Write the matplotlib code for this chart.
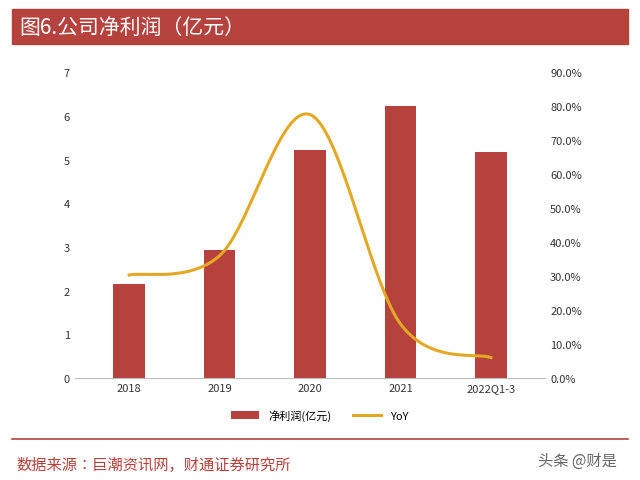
import matplotlib
matplotlib.use("Agg")
import matplotlib.pyplot as plt
import numpy as np
from matplotlib.ticker import FuncFormatter
from matplotlib import font_manager

names = sorted({f.name for f in font_manager.fontManager.ttflist if "CJK" in f.name})
pref = [n for n in ["Noto Sans CJK SC", "Noto Sans CJK JP"] if n in names] or names
plt.rcParams['font.family'] = pref + ['DejaVu Sans']

categories = ["2018", "2019", "2020", "2021", "2022Q1-3"]
profit = [2.15, 2.92, 5.22, 6.22, 5.18]
yoy = [30.3, 36.0, 77.5, 15.9, 6.0]

fig = plt.figure(figsize=(6.4, 4.81), dpi=100)
ax = fig.add_axes([0.117, 0.212, 0.735, 0.636])
x = np.arange(len(categories))
bars = ax.bar(x, profit, width=0.35, color="#b5423c", label="净利润(亿元)")
ax.set_ylim(0, 7)
ax.set_xlim(-0.6, 4.6)
ax.set_xticks(x)
ax.set_xticklabels(categories, fontsize=8)
ax.tick_params(axis='both', labelsize=8, colors="#333333", length=0)
for s in ["top", "right", "left"]:
    ax.spines[s].set_visible(False)
ax.spines["bottom"].set_color("#bbbbbb")

ax2 = ax.twinx()
px = np.array(x, float); py = np.array(yoy, float)
P = np.vstack([px, py]).T
P = np.vstack([P[0], P, P[-1]])
cx, cy = [], []
t = np.linspace(0, 1, 40)
for i in range(1, len(P) - 2):
    p0, p1, p2, p3 = P[i-1], P[i], P[i+1], P[i+2]
    for tt in t:
        pt = 0.5 * ((2*p1) + (-p0+p2)*tt + (2*p0-5*p1+4*p2-p3)*tt**2 + (-p0+3*p1-3*p2+p3)*tt**3)
        cx.append(pt[0]); cy.append(pt[1])
line, = ax2.plot(cx, cy, color="#e3a824", lw=2.2, label="YoY")
ax2.set_ylim(0, 90)
ax2.set_yticks(np.arange(0, 91, 10))
ax2.yaxis.set_major_formatter(FuncFormatter(lambda v, p: f"{v:.1f}%"))
ax2.tick_params(axis='y', labelsize=8, colors="#333333", length=0)
for s in ["top", "right", "left", "bottom"]:
    ax2.spines[s].set_visible(False)

fig.legend([bars, line], ["净利润(亿元)", "YoY"], loc="center", bbox_to_anchor=(0.5, 0.135),
           ncol=2, frameon=False, fontsize=8, handlelength=2.5)

fig.patches.append(matplotlib.patches.Rectangle((0.019, 0.906), 0.962, 0.073, transform=fig.transFigure,
                                                 color="#b5423c", zorder=0))
fig.text(0.03, 0.942, "图6.公司净利润（亿元）", color="white", fontsize=15, va="center")
fig.add_artist(matplotlib.lines.Line2D([0.019, 0.981], [0.085, 0.085], color="#b5423c", lw=1.2))
fig.text(0.025, 0.033, "数据来源：巨潮资讯网，财通证券研究所", color="#b5423c", fontsize=11, va="center")
fig.text(0.84, 0.042, "头条 @财是", color="#666666", fontsize=11, va="center")

fig.savefig("out.png", dpi=100)
